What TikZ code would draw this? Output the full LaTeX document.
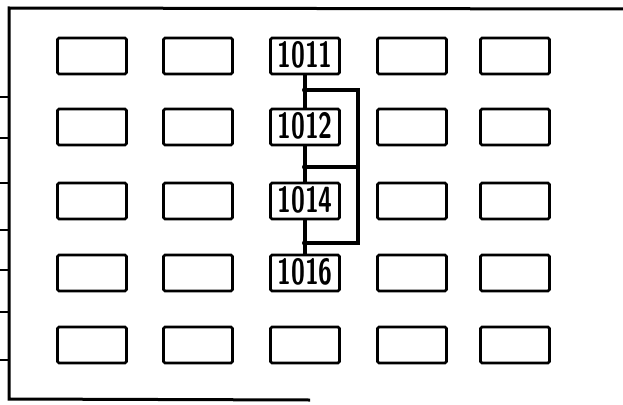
\documentclass[tikz,border=0pt]{standalone}
\usepackage{graphicx}
\begin{document}
\begin{tikzpicture}[x=1pt,y=-1pt,
  cell/.style={draw=black,line width=2.6pt,rounded corners=1.5pt,minimum width=69pt,minimum height=36pt,inner sep=0pt},
  lbl/.style={inner sep=0pt,font=\fontsize{28}{28}\selectfont\sffamily\bfseries},
  frame/.style={line width=3pt,black},
  link/.style={line width=3.2pt,black},
  tick/.style={line width=2pt,black}]
\useasboundingbox (0,0) rectangle (623,404);
% outer frame
\draw[frame] (623,9) -- (9,8) -- (9,399) -- (310,400);
\foreach \y [count=\i] in {97,138,183,230,270,312,360}
  \draw[tick] (0,\y) -- (9,\y);
% grid of boxes
\foreach \x [count=\c] in {92,198,305,412,515}
  \foreach \y [count=\r] in {56,127,201,273,345}
    \node[cell] (b\c\r) at (\x,\y) {};
\node[lbl] (t1) at ([yshift=1pt]b31) {\scalebox{0.9}[1.3]{1011}};
\node[lbl] (t2) at ([yshift=1pt]b32) {\scalebox{0.9}[1.3]{1012}};
\node[lbl] (t3) at ([yshift=1pt]b33) {\scalebox{0.9}[1.3]{1014}};
\node[lbl] (t4) at ([yshift=1pt]b34) {\scalebox{0.9}[1.3]{1016}};
% connectors
\coordinate (j1) at (305,90);
\coordinate (j2) at (305,167);
\coordinate (j3) at (305,243);
\coordinate (r1) at (358,90);
\coordinate (r2) at (358,167);
\coordinate (r3) at (358,243);
\draw[link] (b31.south) -- (b32.north);
\draw[link] (b32.south) -- (b33.north);
\draw[link] (b33.south) -- (b34.north);
\draw[link] (j1) -- (r1) -- (r3) -- (j3);
\draw[link] (j2) -- (r2);
\foreach \j in {j1,j2,j3} \fill (\j) circle (3pt);
\end{tikzpicture}
\end{document}
